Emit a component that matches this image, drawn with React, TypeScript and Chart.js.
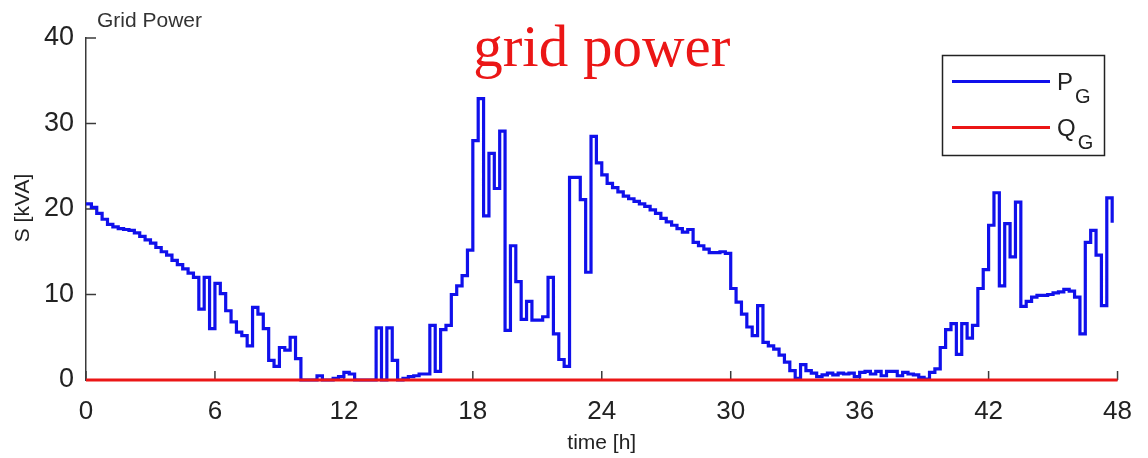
import React, { useEffect, useRef } from "react";
import { Chart, registerables } from "chart.js";

Chart.register(...registerables);

// ---- data (15-minute stairs) ----
const STEP_H = 0.25;

// P_G, hours 0..23 (4 values per hour)
const P_DAY1 = [
  20.6, 20.2, 19.5, 18.8,
  18.2, 17.9, 17.7, 17.6,
  17.5, 17.2, 16.8, 16.4,
  16.0, 15.5, 15.0, 14.6,
  14.0, 13.5, 13.0, 12.5,
  12.0, 8.3, 12.0, 6.0,
  11.3, 10.1, 8.1, 6.8,
  5.6, 5.2, 4.0, 8.5,
  7.7, 6.0, 2.3, 1.6,
  3.8, 3.5, 5.0, 2.5,
  0, 0, 0, 0.5,
  0, 0, 0.2, 0.4,
  0.9, 0.7, 0, 0,
  0, 0, 6.1, 0,
  6.1, 2.3, 0, 0.2,
  0.4, 0.5, 0.7, 0.7,
  6.4, 1.0, 5.9, 6.4,
  10.0, 11.0, 12.2, 15.2,
  28.0, 32.9, 19.2, 26.5,
  22.4, 29.1, 5.8, 15.7,
  11.5, 7.1, 9.2, 7.0,
  7.0, 7.4, 12.0, 5.4,
  2.4, 1.6, 23.7, 23.7,
  21.1, 12.6, 28.5, 25.4,
];

// P_G, hours 24..47
const P_DAY2 = [
  24.0, 23.0, 22.5, 22.0,
  21.5, 21.2, 20.9, 20.6,
  20.3, 19.9, 19.5, 18.9,
  18.5, 18.1, 17.7, 17.3,
  17.6, 16.1, 15.7, 15.3,
  14.9, 14.9, 15.0, 14.8,
  10.7, 9.1, 7.7, 6.2,
  5.2, 8.7, 4.4, 4.0,
  3.6, 2.9, 2.1, 1.1,
  0.2, 1.8, 1.1, 0.8,
  0.4, 0.6, 0.8, 0.6,
  0.8, 0.7, 0.8, 0.4,
  0.9, 1.0, 0.7, 1.0,
  0.5, 1.0, 1.0, 0.5,
  0.9, 0.7, 0.6, 0.3,
  0.1, 0.9, 1.3, 3.8,
  5.9, 6.6, 3.0, 6.6,
  4.9, 6.4, 10.7, 12.9,
  18.1, 21.9, 11.0, 18.3,
  14.4, 20.8, 8.6, 9.2,
  9.7, 9.9, 9.9, 10.0,
  10.2, 10.3, 10.6, 10.4,
  9.7, 5.4, 16.1, 17.5,
  14.6, 8.7, 21.3, 18.4,
];

// Q_G is zero over the whole horizon
const Q_TIMES = [0, 48];
const Q_VALUES = [0, 0];

const X_TICKS = [0, 6, 12, 18, 24, 30, 36, 42, 48];
const Y_TICKS = [0, 10, 20, 30, 40];

const SERIES_LABELS = [
  { main: "P", sub: "G" },
  { main: "Q", sub: "G" },
];
const SMALL_TITLE = "Grid Power";
const BIG_TITLE = "grid power";
const X_TITLE = "time [h]";
const Y_TITLE = "S [kVA]";

// ---- styles ----
const BLUE = "rgb(16, 16, 235)";
const RED = "rgb(235, 22, 22)";
const AXIS_COLOR = "#3a3a3a";
const TEXT_COLOR = "#222222";
const SANS = "'Liberation Sans', Arial, Helvetica, sans-serif";
const SERIF = "'Liberation Serif', 'Times New Roman', serif";

const decorPlugin = {
  id: "decor",
  beforeDatasetsDraw(chart: any) {
    const { ctx, chartArea, scales } = chart;
    ctx.save();
    ctx.strokeStyle = AXIS_COLOR;
    ctx.lineWidth = 1.5;
    for (const v of Y_TICKS) {
      const y = scales.y.getPixelForValue(v);
      ctx.beginPath();
      ctx.moveTo(chartArea.left, y);
      ctx.lineTo(chartArea.left + 10, y);
      ctx.stroke();
    }
    for (const v of X_TICKS) {
      const x = scales.x.getPixelForValue(v);
      ctx.beginPath();
      ctx.moveTo(x, chartArea.bottom);
      ctx.lineTo(x, chartArea.bottom - 9);
      ctx.stroke();
    }
    ctx.restore();
  },
  afterDraw(chart: any) {
    const { ctx, chartArea } = chart;
    ctx.save();
    // small title top-left
    ctx.fillStyle = "#333333";
    ctx.font = `21px ${SANS}`;
    ctx.textAlign = "left";
    ctx.textBaseline = "alphabetic";
    ctx.fillText(SMALL_TITLE, 97, 27);

    // big red title
    ctx.fillStyle = RED;
    ctx.font = `59px ${SERIF}`;
    ctx.textAlign = "center";
    ctx.fillText(BIG_TITLE, (chartArea.left + chartArea.right) / 2, 66);

    // axis titles
    ctx.fillStyle = TEXT_COLOR;
    ctx.font = `21px ${SANS}`;
    ctx.textAlign = "center";
    ctx.textBaseline = "middle";
    ctx.fillText(X_TITLE, (chartArea.left + chartArea.right) / 2, 443);
    ctx.save();
    ctx.translate(23, 208);
    ctx.rotate(-Math.PI / 2);
    ctx.fillText(Y_TITLE, 0, 0);
    ctx.restore();

    // legend
    const bx = 942.5, by = 55.5, bw = 162, bh = 100;
    ctx.fillStyle = "#ffffff";
    ctx.fillRect(bx, by, bw, bh);
    ctx.strokeStyle = TEXT_COLOR;
    ctx.lineWidth = 1.5;
    ctx.strokeRect(bx, by, bw, bh);
    const colors = [BLUE, RED];
    const rowsY = [81.5, 127.5];
    SERIES_LABELS.forEach((lab, i) => {
      const y = rowsY[i];
      ctx.strokeStyle = colors[i];
      ctx.lineWidth = 3;
      ctx.beginPath();
      ctx.moveTo(952, y);
      ctx.lineTo(1050, y);
      ctx.stroke();
      ctx.fillStyle = TEXT_COLOR;
      ctx.textAlign = "left";
      ctx.textBaseline = "alphabetic";
      ctx.font = `24px ${SANS}`;
      ctx.fillText(lab.main, 1057, y + 8);
      const w = ctx.measureText(lab.main).width;
      ctx.font = `20px ${SANS}`;
      ctx.fillText(lab.sub, 1057 + w + 2, y + 21);
    });
    ctx.restore();
  },
};

export default function App() {
  const canvasRef = useRef<HTMLCanvasElement | null>(null);

  useEffect(() => {
    document.body.style.margin = "0";
    const canvas = canvasRef.current;
    if (!canvas) return;

    const pValues = [...P_DAY1, ...P_DAY2];
    const pData = pValues.map((v, i) => ({ x: i * STEP_H, y: v }));
    const qData = Q_TIMES.map((t, i) => ({ x: t, y: Q_VALUES[i] }));

    const chart = new Chart(canvas, {
      type: "line",
      data: {
        datasets: [
          {
            label: "P_G",
            data: pData,
            borderColor: BLUE,
            borderWidth: 3.2,
            stepped: true,
            pointRadius: 0,
            fill: false,
            order: 1,
            clip: false as any,
            borderJoinStyle: "miter",
          },
          {
            label: "Q_G",
            data: qData,
            borderColor: RED,
            borderWidth: 3,
            stepped: true,
            pointRadius: 0,
            fill: false,
            order: 0,
            clip: false as any,
          },
        ],
      },
      options: {
        responsive: false,
        animation: false,
        devicePixelRatio: 1,
        layout: { padding: { top: 38, right: 19, left: 0, bottom: 0 } },
        plugins: {
          legend: { display: false },
          tooltip: { enabled: false },
          title: { display: false },
        },
        scales: {
          x: {
            type: "linear",
            min: 0,
            max: 48,
            afterBuildTicks: (s: any) => {
              s.ticks = X_TICKS.map((v) => ({ value: v }));
            },
            afterFit: (s: any) => {
              s.height = 78;
            },
            grid: { display: false, drawTicks: false },
            border: { display: true, color: AXIS_COLOR, width: 1.5 },
            ticks: {
              color: TEXT_COLOR,
              font: { family: SANS, size: 26 },
              padding: 16,
              maxRotation: 0,
              autoSkip: false,
            },
          },
          y: {
            type: "linear",
            min: 0,
            max: 40,
            afterBuildTicks: (s: any) => {
              s.ticks = Y_TICKS.map((v) => ({ value: v }));
            },
            afterFit: (s: any) => {
              s.width = 86;
            },
            grid: { display: false, drawTicks: false },
            border: { display: true, color: AXIS_COLOR, width: 1.5 },
            ticks: {
              color: TEXT_COLOR,
              font: { family: SANS, size: 27 },
              padding: 12,
              autoSkip: false,
            },
          },
        },
      },
      plugins: [decorPlugin],
    });

    return () => {
      chart.destroy();
    };
  }, []);

  return (
    <div style={{ width: 1148, height: 458, background: "#ffffff" }}>
      <canvas ref={canvasRef} width={1148} height={458} style={{ display: "block" }} />
    </div>
  );
}
